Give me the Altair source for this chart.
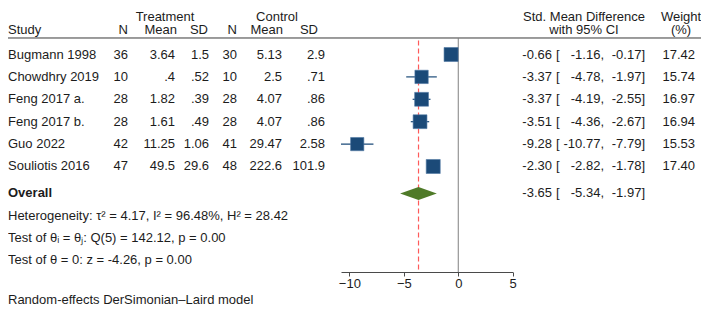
import altair as alt
import pandas as pd

# ---------------- data ----------------
studies = ["Bugmann 1998", "Chowdhry 2019", "Feng 2017 a.", "Feng 2017 b.", "Guo 2022", "Souliotis 2016"]
t_n = ["36", "10", "28", "28", "42", "47"]
t_mean = ["3.64", ".4", "1.82", "1.61", "11.25", "49.5"]
t_sd = ["1.5", ".52", ".39", ".49", "1.06", "29.6"]
c_n = ["30", "10", "28", "28", "41", "48"]
c_mean = ["5.13", "2.5", "4.07", "4.07", "29.47", "222.6"]
c_sd = ["2.9", ".71", ".86", ".86", "2.58", "101.9"]
smd = [-0.66, -3.37, -3.37, -3.51, -9.28, -2.30]
ci_lo = [-1.16, -4.78, -4.19, -4.36, -10.77, -2.82]
ci_hi = [-0.17, -1.97, -2.55, -2.67, -7.79, -1.78]
weight = [17.42, 15.74, 16.97, 16.94, 15.53, 17.40]
overall = [-3.65, -5.34, -1.97]  # estimate, lower, upper
x_ticks = [-10, -5, 0, 5]
het_text = "Heterogeneity: \u03c4\u00b2 = 4.17, I\u00b2 = 96.48%, H\u00b2 = 28.42"
test1_text = "Test of \u03b8\u1d62 = \u03b8\u2c7c: Q(5) = 142.12, p = 0.00"
test2_text = "Test of \u03b8 = 0: z = -4.26, p = 0.00"
footnote = "Random-effects DerSimonian\u2013Laird model"

# ---------------- layout / style ----------------
FONT = "Liberation Sans"
FS = 13
TXT = "#1c1c1c"
BLUE = "#1b4a78"
GREEN = "#4f7a28"
RED = "#ff5a5a"
W, H = 693, 264
K_TOP, K_BOT = -1.076, 10.71

rows = list(range(1, len(studies) + 1))
K_H1, K_H2, K_LINE, K_RED = -0.696, -0.094, 0.263, 0.38
K_OVERALL, K_HET, K_T1, K_T2, K_FOOT = 7.205, 8.19, 9.17, 10.17, 11.96

# column anchors (chart pixels)
X_STUDY, X_TN, X_TM, X_TS, X_CN, X_CM, X_CS = 0, 120, 167, 201, 229, 274, 317
X_EST, X_BR, X_LO, X_HI, X_W = 544, 548, 596, 637, 687

xscale = alt.Scale(domain=[-10.77, 5], range=[333, 504.7], nice=False, zero=False)
yscale = alt.Scale(domain=[K_TOP, K_BOT], reverse=True, nice=False, zero=False)

df = pd.DataFrame({
    "k": rows, "study": studies, "t_n": t_n, "t_mean": t_mean, "t_sd": t_sd,
    "c_n": c_n, "c_mean": c_mean, "c_sd": c_sd,
    "smd": smd, "lo": ci_lo, "hi": ci_hi, "w": weight,
})
df["est_s"] = [f"{v:.2f}" for v in smd]
df["lo_s"] = [f"{v:.2f}," for v in ci_lo]
df["hi_s"] = [f"{v:.2f}]" for v in ci_hi]
df["w_s"] = [f"{v:.2f}" for v in weight]
df["br"] = "["


def txt(data, field, xpx, align, bold=False):
    return alt.Chart(data).mark_text(
        align=align, baseline="middle", font=FONT, fontSize=FS, color=TXT,
        fontWeight="bold" if bold else "normal"
    ).encode(
        x=alt.value(xpx),
        y=alt.Y("k:Q", scale=yscale, axis=None),
        text=alt.Text(f"{field}:N"),
    )


def label(s, xpx, align, k, bold=False):
    return txt(pd.DataFrame({"k": [k], "t": [s]}), "t", xpx, align, bold)


layers = []

# header
layers += [
    label("Treatment", 157, "center", K_H1),
    label("Control", 269, "center", K_H1),
    label("Std. Mean Difference", 576, "center", K_H1),
    label("Weight", 673, "center", K_H1),
    label("Study", X_STUDY, "left", K_H2),
    label("N", X_TN, "right", K_H2),
    label("Mean", 169, "right", K_H2),
    label("SD", 200, "right", K_H2),
    label("N", X_CN, "right", K_H2),
    label("Mean", 275, "right", K_H2),
    label("SD", 310, "right", K_H2),
    label("with 95% CI", 576, "center", K_H2),
    label("(%)", 673, "center", K_H2),
]

# header underline
layers.append(
    alt.Chart(pd.DataFrame({"k": [K_LINE]})).mark_rule(color="#3a3a3a", strokeWidth=1).encode(
        x=alt.value(0), x2=alt.value(W), y=alt.Y("k:Q", scale=yscale, axis=None)
    )
)

# study columns
layers += [
    txt(df, "study", X_STUDY, "left"),
    txt(df, "t_n", X_TN, "right"),
    txt(df, "t_mean", X_TM, "right"),
    txt(df, "t_sd", X_TS, "right"),
    txt(df, "c_n", X_CN, "right"),
    txt(df, "c_mean", X_CM, "right"),
    txt(df, "c_sd", X_CS, "right"),
    txt(df, "est_s", X_EST, "right"),
    txt(df, "br", X_BR, "left"),
    txt(df, "lo_s", X_LO, "right"),
    txt(df, "hi_s", X_HI, "right"),
    txt(df, "w_s", X_W, "right"),
]

# overall row text
ov = pd.DataFrame({
    "k": [K_OVERALL], "est_s": [f"{overall[0]:.2f}"], "br": ["["],
    "lo_s": [f"{overall[1]:.2f},"], "hi_s": [f"{overall[2]:.2f}]"],
})
layers += [
    label("Overall", X_STUDY, "left", K_OVERALL, bold=True),
    txt(ov, "est_s", X_EST, "right"),
    txt(ov, "br", X_BR, "left"),
    txt(ov, "lo_s", X_LO, "right"),
    txt(ov, "hi_s", X_HI, "right"),
    label(het_text, X_STUDY, "left", K_HET),
    label(test1_text, X_STUDY, "left", K_T1),
    label(test2_text, X_STUDY, "left", K_T2),
    label(footnote, X_STUDY, "left", K_FOOT),
]

# zero line
layers.append(
    alt.Chart(pd.DataFrame({"x": [0], "k1": [K_LINE], "k2": [K_BOT]})).mark_rule(
        color="#808080", strokeWidth=1
    ).encode(
        x=alt.X("x:Q", scale=xscale,
                axis=alt.Axis(values=x_ticks, title=None, grid=False, tickSize=4,
                              labelFont=FONT, labelFontSize=FS, labelColor=TXT,
                              labelPadding=1, labelFlush=False, labelOverlap=False,
                              domainColor="#4a4a4a", tickColor="#4a4a4a",
                              domainWidth=1, tickWidth=1)),
        y=alt.Y("k1:Q", scale=yscale, axis=None),
        y2="k2:Q",
    )
)

# overall dashed line
layers.append(
    alt.Chart(pd.DataFrame({"x": [overall[0]], "k1": [K_RED], "k2": [K_BOT]})).mark_rule(
        color=RED, strokeWidth=1.2, strokeDash=[5, 3]
    ).encode(
        x=alt.X("x:Q", scale=xscale),
        y=alt.Y("k1:Q", scale=yscale, axis=None),
        y2="k2:Q",
    )
)

# CI whiskers
layers.append(
    alt.Chart(df).mark_rule(color=BLUE, strokeWidth=1.2).encode(
        x=alt.X("lo:Q", scale=xscale),
        x2="hi:Q",
        y=alt.Y("k:Q", scale=yscale, axis=None),
    )
)

# squares
layers.append(
    alt.Chart(df).mark_square(filled=True, color=BLUE, opacity=1, stroke="#4f77a3", strokeWidth=0.6).encode(
        x=alt.X("smd:Q", scale=xscale),
        y=alt.Y("k:Q", scale=yscale, axis=None),
        size=alt.Size("w:Q", scale=alt.Scale(domain=[0, 20], range=[0, 226]), legend=None),
    )
)

# overall diamond
half = 0.29
dia = pd.DataFrame({
    "x": [overall[1], overall[0], overall[2]],
    "y1": [K_OVERALL, K_OVERALL - half, K_OVERALL],
    "y2": [K_OVERALL, K_OVERALL + half, K_OVERALL],
})
layers.append(
    alt.Chart(dia).mark_area(color=GREEN, opacity=1, orient="vertical").encode(
        x=alt.X("x:Q", scale=xscale),
        y=alt.Y("y1:Q", scale=yscale, axis=None),
        y2="y2:Q",
    )
)

chart = alt.layer(*layers).properties(
    width=W, height=H,
    padding={"left": 0, "top": 0, "right": 0, "bottom": 34},
    autosize=alt.AutoSizeParams(type="none"),
).configure_view(stroke=None)

chart.save("out.html", embed_options={"renderer": "svg", "actions": False})
